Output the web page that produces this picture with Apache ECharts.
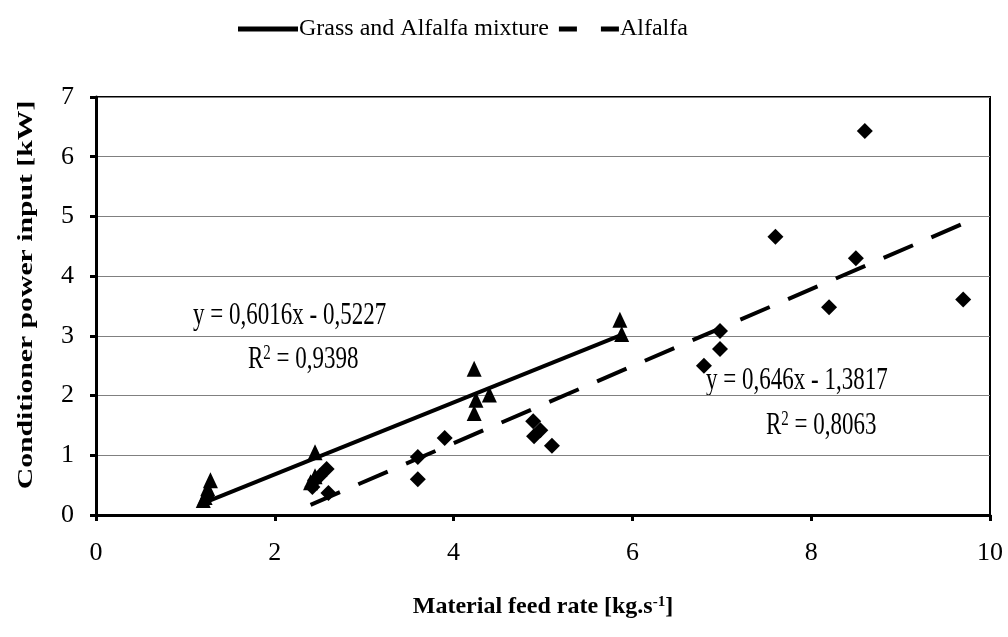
<!DOCTYPE html>
<html>
<head>
<meta charset="utf-8">
<script src="https://cdn.jsdelivr.net/npm/echarts@6/dist/echarts.min.js"></script>
<style>
  html, body { margin: 0; padding: 0; background: #fff; }
  #main { width: 1008px; height: 637px; }
</style>
</head>
<body>
<div id="main"></div>
<script>
const grassPoints = [
  [1.2, 0.25], [1.22, 0.3], [1.25, 0.4], [1.25, 0.45], [1.28, 0.58],
  [2.45, 1.05], [2.4, 0.55], [2.45, 0.65],
  [4.23, 2.45], [4.25, 1.93], [4.23, 1.71], [4.4, 2.02],
  [5.86, 3.27], [5.88, 3.03]
];
const alfalfaPoints = [
  [2.42, 0.47], [2.45, 0.58], [2.5, 0.65], [2.58, 0.77], [2.6, 0.37],
  [3.6, 0.97], [3.6, 0.6], [3.9, 1.29],
  [4.89, 1.57], [4.97, 1.42], [4.9, 1.32], [5.1, 1.16],
  [6.8, 2.5], [6.98, 3.08], [6.98, 2.78],
  [7.6, 4.66], [8.2, 3.48], [8.5, 4.3], [8.6, 6.43], [9.7, 3.61]
];
// trend line endpoints
const grassTrend = [[1.2, 0.2], [5.9, 3.03]];
const alfalfaTrend = [[2.4, 0.17], [9.7, 4.88]];
const xTicks = { min: 0, max: 10, interval: 2 };
const yTicks = { min: 0, max: 7, interval: 1 };

const serif = '"Liberation Serif", "DejaVu Serif", serif';
const supStyle = { fontFamily: serif, fontSize: 15, verticalAlign: 'top', lineHeight: 24 };
const myChart = echarts.init(document.getElementById('main'));

// the original picture is stretched vertically, so free text gets scaleY
const stretch = 1.35;

const option = {
  backgroundColor: '#fff',
  animation: false,
  textStyle: { fontFamily: serif, color: '#000' },
  legend: {
    top: 12,
    left: 233,
    data: [
      { name: 'Grass and Alfalfa mixture', icon: 'rect' },
      { name: 'Alfalfa', icon: 'path://M0,0h18v5h-18z M42,0h18v5h-18z' }
    ],
    itemWidth: 60,
    itemHeight: 5,
    itemGap: 10,
    textStyle: { fontFamily: serif, fontSize: 24, color: '#000', padding: [0, 0, 0, -4] }
  },
  grid: {
    left: 96, right: 18, top: 97, bottom: 122,
    show: true, borderColor: '#000', borderWidth: 2
  },
  xAxis: {
    type: 'value',
    min: xTicks.min, max: xTicks.max, interval: xTicks.interval,
    name: 'Material feed rate [kg.s{sup|-1}]',
    nameLocation: 'middle',
    nameGap: 80,
    nameTextStyle: {
      fontFamily: serif, fontSize: 24, fontWeight: 'bold', color: '#000',
      rich: { sup: Object.assign({}, supStyle, { fontWeight: 'bold' }) }
    },
    axisLine: { show: true, lineStyle: { color: '#000', width: 3 } },
    axisTick: { show: true, length: 6, lineStyle: { color: '#000', width: 3 } },
    axisLabel: { fontFamily: serif, fontSize: 26, color: '#000', margin: 25 },
    splitLine: { show: false }
  },
  yAxis: {
    type: 'value',
    min: yTicks.min, max: yTicks.max, interval: yTicks.interval,
    axisLine: { show: true, lineStyle: { color: '#000', width: 3 } },
    axisTick: { show: true, length: 6, lineStyle: { color: '#000', width: 3 } },
    axisLabel: { fontFamily: serif, fontSize: 26, color: '#000', margin: 22 },
    splitLine: { show: true, lineStyle: { color: '#808080', width: 1 } }
  },
  series: [
    {
      name: 'Grass and Alfalfa mixture',
      type: 'line',
      data: grassTrend,
      symbol: 'none',
      lineStyle: { color: '#000', width: 4 },
      itemStyle: { color: '#000' },
      z: 3
    },
    {
      name: 'Alfalfa',
      type: 'line',
      data: alfalfaTrend,
      symbol: 'none',
      lineStyle: { color: '#000', width: 4, type: [32, 20] },
      itemStyle: { color: '#000' },
      z: 3
    },
    {
      name: 'grass points',
      type: 'scatter',
      data: grassPoints,
      symbol: 'triangle',
      symbolSize: [15, 16],
      itemStyle: { color: '#000', opacity: 1 },
      z: 4
    },
    {
      name: 'alfalfa points',
      type: 'scatter',
      data: alfalfaPoints,
      symbol: 'diamond',
      symbolSize: [16, 16],
      itemStyle: { color: '#000', opacity: 1 },
      z: 4
    }
  ],
  graphic: [
    {
      type: 'text', x: 26, y: 295, rotation: Math.PI / 2, scaleX: stretch,
      style: {
        text: 'Conditioner power input [kW]', font: 'bold 22px ' + serif, fill: '#000',
        align: 'center', verticalAlign: 'middle'
      }
    },
    {
      type: 'text', x: 193, y: 316, scaleY: stretch,
      style: { text: 'y = 0,6016x - 0,5227', font: '23px ' + serif, fill: '#000', verticalAlign: 'middle' }
    },
    {
      type: 'text', x: 248, y: 360, scaleY: stretch,
      style: {
        text: 'R{sup|2} = 0,9398', font: '23px ' + serif, fill: '#000', verticalAlign: 'middle',
        rich: { sup: supStyle }
      }
    },
    {
      type: 'text', x: 706, y: 381, scaleY: stretch,
      style: { text: 'y = 0,646x - 1,3817', font: '23px ' + serif, fill: '#000', verticalAlign: 'middle' }
    },
    {
      type: 'text', x: 766, y: 426, scaleY: stretch,
      style: {
        text: 'R{sup|2} = 0,8063', font: '23px ' + serif, fill: '#000', verticalAlign: 'middle',
        rich: { sup: supStyle }
      }
    }
  ]
};

option && myChart.setOption(option);
</script>
</body>
</html>
